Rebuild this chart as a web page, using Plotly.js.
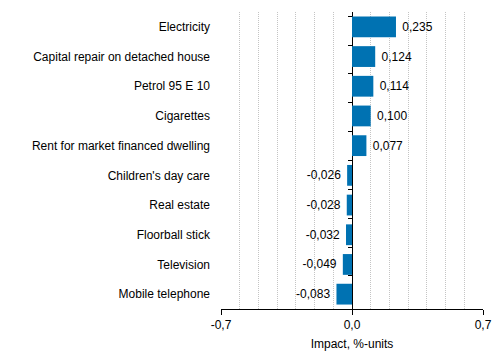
<!DOCTYPE html>
<html>
<head>
<meta charset="utf-8">
<script src="https://cdn.plot.ly/plotly-3.0.1.min.js"></script>
<style>html,body{margin:0;padding:0;background:#fff;}#chart{width:499px;height:352px;}</style>
</head>
<body>
<div id="chart"></div>
<script>
const categories = ["Electricity", "Capital repair on detached house", "Petrol 95 E 10", "Cigarettes",
  "Rent for market financed dwelling", "Children's day care", "Real estate", "Floorball stick",
  "Television", "Mobile telephone"];
const values = [0.235, 0.124, 0.114, 0.100, 0.077, -0.026, -0.028, -0.032, -0.049, -0.083];
const xTickVals = [-0.7, 0.0, 0.7];
const xTickText = ["-0,7", "0,0", "0,7"];

const labels = values.map(v => {
  const s = v.toFixed(3).replace('.', ',');
  return v >= 0 ? '\u00a0' + s : s + '\u00a0';
});
const font = {family: "Liberation Sans, Arial, sans-serif", size: 12, color: "#000"};

const traces = [
  {
    type: 'bar', orientation: 'h', x: values, y: categories,
    marker: {color: '#0072b2'},
    text: labels, textposition: 'outside', cliponaxis: false,
    textfont: font, hoverinfo: 'skip', xaxis: 'x', yaxis: 'y'
  },
  {
    type: 'scatter', mode: 'markers', x: categories.map(() => 0), y: categories,
    marker: {opacity: 0}, hoverinfo: 'skip', showlegend: false, xaxis: 'x', yaxis: 'y2'
  }
];

const layout = {
  width: 499, height: 352,
  margin: {l: 221, r: 16, t: 12, b: 43},
  paper_bgcolor: '#fff', plot_bgcolor: '#fff',
  showlegend: false, bargap: 0.3,
  separators: ',.',
  font: font,
  xaxis: {
    range: [-0.7, 0.7], tickvals: xTickVals, ticktext: xTickText,
    ticks: 'outside', ticklen: 5, tickcolor: '#000',
    showline: true, linecolor: '#000', linewidth: 1,
    showgrid: true, gridcolor: '#8c8c8c', gridwidth: 1,
    zeroline: true, zerolinecolor: '#000', zerolinewidth: 1,
    minor: {dtick: 0.1, tick0: 0, showgrid: true, gridcolor: '#c4c4c4', griddash: '1px,1px', gridwidth: 1},
    title: {text: 'Impact, %-units', font: font, standoff: 8},
    tickfont: font, fixedrange: true
  },
  yaxis: {
    type: 'category', categoryorder: 'array', categoryarray: categories,
    autorange: 'reversed', showgrid: false, zeroline: false, showline: false,
    ticks: '', ticklabelstandoff: 10, tickfont: font, fixedrange: true
  },
  yaxis2: {
    type: 'category', categoryorder: 'array', categoryarray: categories,
    autorange: 'reversed', overlaying: 'y', anchor: 'free', position: 0.5, side: 'left',
    showline: false, showgrid: false, zeroline: false, showticklabels: false,
    ticks: 'outside', tickson: 'boundaries', ticklen: 4, tickcolor: '#000', fixedrange: true
  }
};

Plotly.newPlot('chart', traces, layout, {displayModeBar: false, staticPlot: true});
</script>
</body>
</html>
